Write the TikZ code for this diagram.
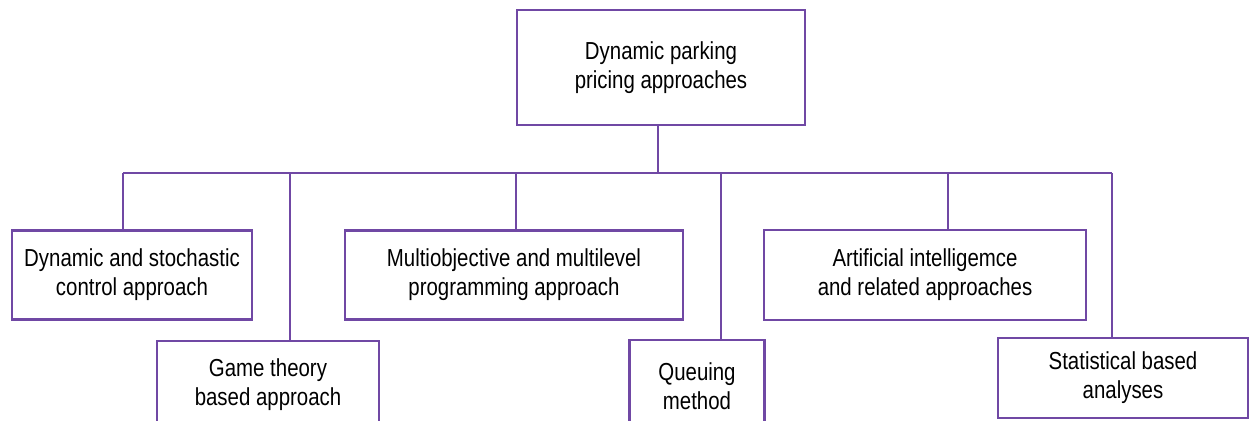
\documentclass[tikz,border=0pt]{standalone}
\usepackage{fontspec}
\setmainfont{Liberation Sans}[FakeStretch=0.83]
\definecolor{boxpurple}{RGB}{112,72,164}
\tikzset{
  box/.style={draw=boxpurple, line width=1.6pt, rectangle, inner sep=0pt,
    align=center, font=\fontsize{14}{16.5}\selectfont},
  link/.style={draw=boxpurple, line width=1.6pt}
}

\begin{document}
\begin{tikzpicture}[x=0.02cm, y=-0.02cm]
    % 画布大小
    \useasboundingbox (0,0) rectangle (1250,420);

    % 顶部的框
    \node[box, minimum width=288*0.02cm, minimum height=115*0.02cm] (top) at (661,67.5)
        {Dynamic parking\\pricing approaches};

    % 第一排的框
    \node[box, minimum width=240*0.02cm, minimum height=89*0.02cm] (dyn) at (132,275)
        {Dynamic and stochastic\\control approach};
    \node[box, minimum width=338*0.02cm, minimum height=89*0.02cm] (multi) at (514,275)
        {Multiobjective and multilevel\\programming approach};
    \node[box, minimum width=322*0.02cm, minimum height=90*0.02cm] (ai) at (925,275)
        {Artificial intelligemce\\and related approaches};

    % 第二排的框
    \node[box, minimum width=222*0.02cm, minimum height=88*0.02cm] (game) at (268,385)
        {Game theory\\based approach};
    \node[box, minimum width=135*0.02cm, minimum height=92*0.02cm] (queue) at (697,386)
        {Queuing\\method};
    \node[box, minimum width=250*0.02cm, minimum height=80*0.02cm] (stat) at (1123,378)
        {Statistical based\\analyses};

    % 横线上的点
    \coordinate (bt) at (658,173);
    \coordinate (b1) at (123,173);
    \coordinate (b2) at (290,173);
    \coordinate (b3) at (516,173);
    \coordinate (b4) at (721,173);
    \coordinate (b5) at (948,173);
    \coordinate (b6) at (1112,173);

    % 连线
    \draw[link] (bt |- top.south) -- (bt);
    \draw[link] (b1) -- (b6);
    \draw[link] (b1) -- (b1 |- dyn.north);
    \draw[link] (b2) -- (b2 |- game.north);
    \draw[link] (b3) -- (b3 |- multi.north);
    \draw[link] (b4) -- (b4 |- queue.north);
    \draw[link] (b5) -- (b5 |- ai.north);
    \draw[link] (b6) -- (b6 |- stat.north);
\end{tikzpicture}
\end{document}
